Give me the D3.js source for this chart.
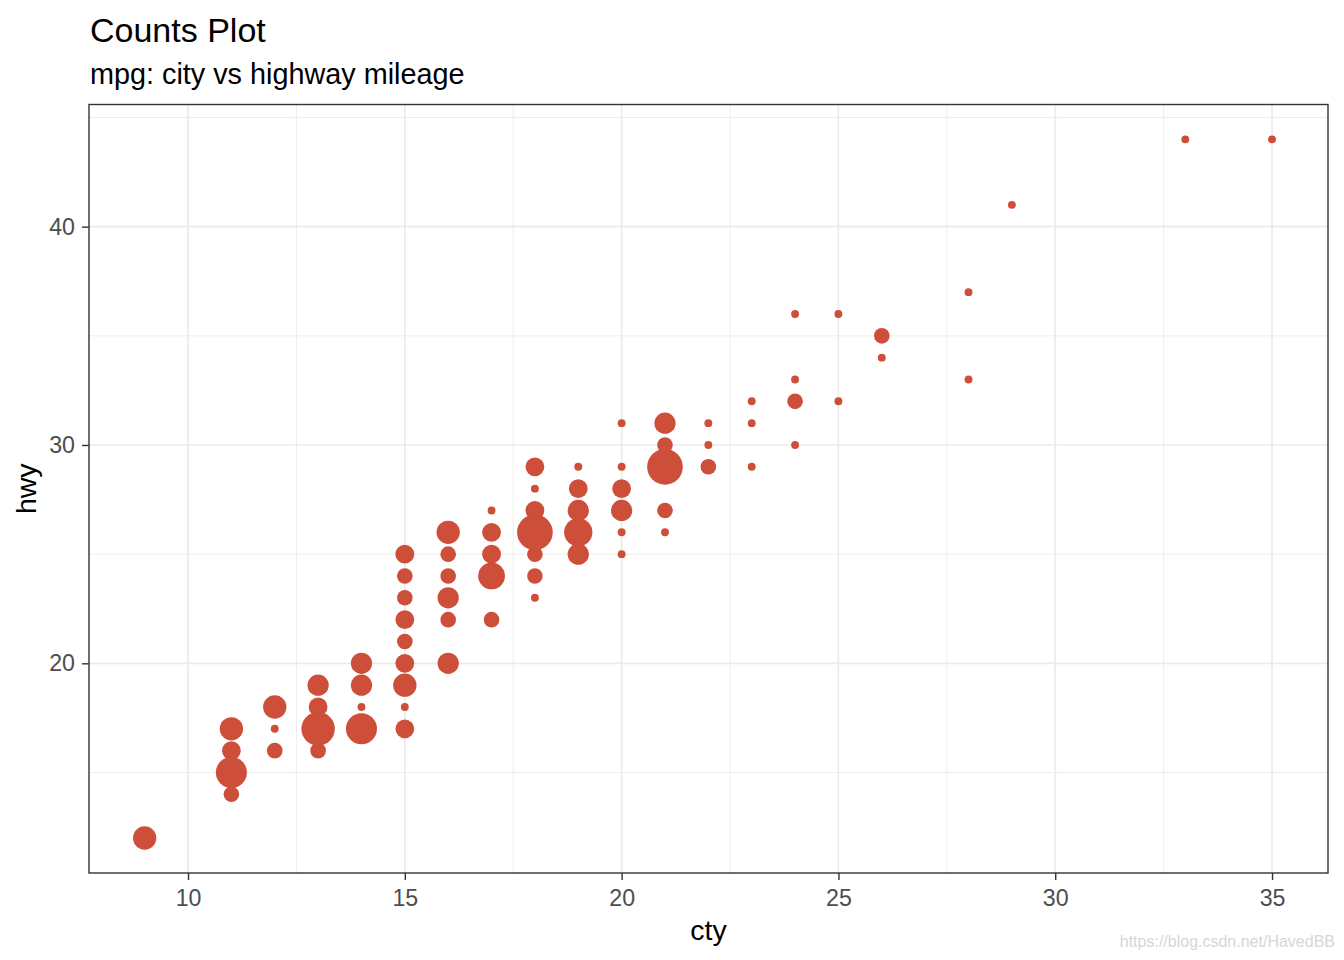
<!DOCTYPE html>
<html>
<head>
<meta charset="utf-8">
<script src="https://cdn.jsdelivr.net/npm/d3@7"></script>
<style>
  body { margin: 0; background: #fff; }
  text { font-family: "Liberation Sans", Arial, sans-serif; }
</style>
</head>
<body>
<script>
//counts of cars at each city / highway mileage pair (mpg data)
var cty = [9, 11, 11, 11, 11, 12, 12, 12, 13, 13, 13, 13, 14, 14, 14, 14,
    15, 15, 15, 15, 15, 15, 15, 15, 15, 16, 16, 16, 16, 16, 16,
    17, 17, 17, 17, 17, 18, 18, 18, 18, 18, 18, 18,
    19, 19, 19, 19, 19, 20, 20, 20, 20, 20, 20,
    21, 21, 21, 21, 21, 22, 22, 22, 23, 23, 23,
    24, 24, 24, 24, 25, 25, 26, 26, 28, 28, 29, 33, 35];
var hwy = [12, 14, 15, 16, 17, 16, 17, 18, 16, 17, 18, 19, 17, 18, 19, 20,
    17, 18, 19, 20, 21, 22, 23, 24, 25, 20, 22, 23, 24, 25, 26,
    22, 24, 25, 26, 27, 23, 24, 25, 26, 27, 28, 29,
    25, 26, 27, 28, 29, 25, 26, 27, 28, 29, 31,
    26, 27, 29, 30, 31, 29, 30, 31, 29, 31, 32,
    30, 32, 33, 36, 32, 36, 34, 35, 33, 37, 41, 44, 44];
var counts = [5, 2, 10, 3, 5, 2, 1, 5, 2, 12, 3, 4, 10, 1, 4, 4,
    3, 1, 5, 3, 2, 3, 2, 2, 3, 4, 2, 4, 2, 2, 5,
    2, 7, 3, 3, 1, 1, 2, 2, 14, 3, 1, 3,
    4, 8, 4, 3, 1, 1, 1, 4, 3, 1, 1,
    1, 2, 14, 2, 4, 2, 1, 1, 1, 1, 1,
    1, 2, 1, 1, 1, 1, 1, 2, 1, 1, 1, 1, 1];

var xTicks = [10, 15, 20, 25, 30, 35],
    xMinor = [12.5, 17.5, 22.5, 27.5, 32.5],
    yTicks = [20, 30, 40],
    yMinor = [15, 25, 35, 45];

window.onload = drawChart();

function drawChart() {
    var width = 1344,
        height = 960;

    var svg = d3.select("body")
        .append("svg")
        .attr("width", width)
        .attr("height", height);

    //panel edges
    var left = 89, right = 1328, top = 104.5, bottom = 873;

    //ggplot style 5% expansion of the data range
    var xExt = d3.extent(cty), yExt = d3.extent(hwy);
    var xPad = (xExt[1] - xExt[0]) * 0.05,
        yPad = (yExt[1] - yExt[0]) * 0.05;

    var x = d3.scaleLinear()
        .domain([xExt[0] - xPad, xExt[1] + xPad])
        .range([88.3, 1328.4]);
    var y = d3.scaleLinear()
        .domain([yExt[0] - yPad, yExt[1] + yPad])
        .range([872.9, 104.4]);

    //size like scale_size: area_pal over the rescaled count
    var rescale = d3.scaleLinear().domain(d3.extent(counts)).range([0, 1]);
    var sizeMm = d3.scaleLinear().domain([0, 1]).range([1, 6]);
    var radius = d3.scaleLinear().domain([1, 6]).range([3.95, 17.85]);

    //minor grid
    svg.append("g").selectAll("line")
        .data(xMinor).join("line")
        .attr("x1", d => x(d)).attr("x2", d => x(d))
        .attr("y1", top).attr("y2", bottom)
        .attr("stroke", "#EBEBEB").attr("stroke-width", 0.9);
    svg.append("g").selectAll("line")
        .data(yMinor).join("line")
        .attr("x1", left).attr("x2", right)
        .attr("y1", d => y(d)).attr("y2", d => y(d))
        .attr("stroke", "#EBEBEB").attr("stroke-width", 0.9);

    //major grid
    svg.append("g").selectAll("line")
        .data(xTicks).join("line")
        .attr("x1", d => x(d)).attr("x2", d => x(d))
        .attr("y1", top).attr("y2", bottom)
        .attr("stroke", "#EBEBEB").attr("stroke-width", 1.7);
    svg.append("g").selectAll("line")
        .data(yTicks).join("line")
        .attr("x1", left).attr("x2", right)
        .attr("y1", d => y(d)).attr("y2", d => y(d))
        .attr("stroke", "#EBEBEB").attr("stroke-width", 1.7);

    //points
    var pts = cty.map((c, i) => ({ cty: c, hwy: hwy[i], n: counts[i] }));
    svg.append("g").selectAll("circle")
        .data(pts).join("circle")
        .attr("cx", d => x(d.cty))
        .attr("cy", d => y(d.hwy))
        .attr("r", d => radius(sizeMm(Math.sqrt(rescale(d.n)))))
        .attr("fill", "#CD4F39");

    //panel border
    svg.append("rect")
        .attr("x", left).attr("y", top)
        .attr("width", right - left).attr("height", bottom - top)
        .attr("fill", "none")
        .attr("stroke", "#333333")
        .attr("stroke-width", 1.4);

    //axes
    var xAxis = svg.append("g")
        .attr("transform", "translate(0," + bottom + ")")
        .call(d3.axisBottom(x).tickValues(xTicks).tickSize(7).tickPadding(6));
    var yAxis = svg.append("g")
        .attr("transform", "translate(" + left + ",0)")
        .call(d3.axisLeft(y).tickValues(yTicks).tickSize(7).tickPadding(7));

    [xAxis, yAxis].forEach(function (ax) {
        ax.select(".domain").remove();
        ax.selectAll(".tick line").attr("stroke", "#333333").attr("stroke-width", 1.4);
        ax.selectAll(".tick text")
            .attr("fill", "#4D4D4D")
            .style("font-size", "23.2px")
            .style("font-family", "Liberation Sans, Arial, sans-serif");
    });
    xAxis.selectAll(".tick text").attr("y", 17).attr("dy", "0.71em");
    yAxis.selectAll(".tick text").attr("x", -14);

    //titles
    svg.append("text")
        .attr("x", 90).attr("y", 42)
        .style("font-size", "34px")
        .text("Counts Plot");
    svg.append("text")
        .attr("x", 90).attr("y", 84)
        .style("font-size", "28.8px")
        .text("mpg: city vs highway mileage");

    svg.append("text")
        .attr("x", (left + right) / 2).attr("y", 940)
        .attr("text-anchor", "middle")
        .style("font-size", "28.5px")
        .text("cty");
    svg.append("text")
        .attr("transform", "translate(36," + (top + bottom) / 2 + ") rotate(-90)")
        .attr("text-anchor", "middle")
        .style("font-size", "28.5px")
        .text("hwy");

    //watermark
    svg.append("text")
        .attr("x", 1335).attr("y", 947)
        .attr("text-anchor", "end")
        .attr("fill", "#D6D6D6")
        .style("font-size", "16px")
        .text("https://blog.csdn.net/HavedBB");
}
</script>
</body>
</html>
